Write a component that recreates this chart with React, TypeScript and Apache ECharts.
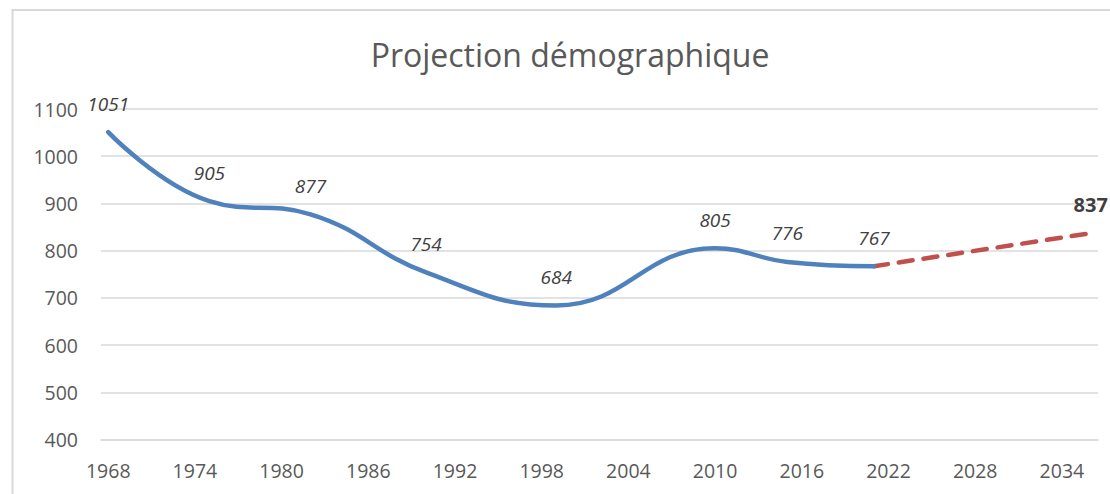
import React, { useEffect, useRef } from "react";
import * as echarts from "echarts";

// Axis domain: one category per year (Excel date axis, between tick marks)
const FIRST_YEAR = 1968;
const LAST_YEAR = 2036;
const YEARS: string[] = Array.from({ length: LAST_YEAR - FIRST_YEAR + 1 }, (_, i) => String(FIRST_YEAR + i));
const LABEL_STEP = 6;

// Historical population
const HIST_YEARS = ["1968", "1975", "1982", "1990", "1999", "2010", "2015", "2021"];
const HIST_VALUES = [1051, 905, 877, 754, 684, 805, 776, 767];

// Projection
const PROJ_YEARS = ["2021", "2036"];
const PROJ_VALUES = [767, 837];

const Y_MIN = 400;
const Y_MAX = 1100;
const Y_STEP = 100;

const TITLE = "Projection démographique";

export default function App() {
  const ref = useRef<HTMLDivElement>(null);

  useEffect(() => {
    document.body.style.margin = "0";
    if (!ref.current) return;
    const chart = echarts.init(ref.current, undefined, { renderer: "svg" });
    const font = "'Open Sans', 'Noto Sans', sans-serif";

    const labelStyle = {
      show: true,
      position: "top",
      distance: 19,
      fontStyle: "italic",
      fontSize: 19,
      fontFamily: font,
      color: "#404040",
    };

    chart.setOption({
      animation: false,
      backgroundColor: "#ffffff",
      graphic: [
        {
          type: "rect",
          shape: { x: 12.5, y: 10, width: 1300, height: 700 },
          style: { fill: "none", stroke: "#d9d9d9", lineWidth: 2 },
          silent: true,
          z: -1,
        },
        {
          type: "text",
          x: 570,
          y: 54,
          style: {
            text: TITLE,
            fontSize: 32,
            fontFamily: font,
            fill: "#595959",
            align: "center",
            verticalAlign: "middle",
          },
        },
      ],
      grid: { left: 101, right: 12, top: 109, bottom: 54.5, containLabel: false },
      xAxis: {
        type: "category",
        data: YEARS,
        boundaryGap: true,
        axisLine: { show: true, lineStyle: { color: "#d9d9d9", width: 1.5 } },
        axisTick: { show: false },
        splitLine: { show: false },
        axisLabel: {
          interval: (_i: number, v: string) => (Number(v) - FIRST_YEAR) % LABEL_STEP === 0,
          margin: 21,
          fontSize: 19.5,
          fontFamily: font,
          color: "#595959",
        },
      },
      yAxis: {
        type: "value",
        min: Y_MIN,
        max: Y_MAX,
        interval: Y_STEP,
        axisLine: { show: false },
        axisTick: { show: false },
        splitLine: { lineStyle: { color: "#d9d9d9", width: 1.5 } },
        axisLabel: {
          margin: 23,
          fontSize: 19.5,
          fontFamily: font,
          color: "#595959",
          formatter: (v: number) => String(v),
        },
      },
      series: [
        {
          type: "line",
          data: HIST_YEARS.map((y, i) => [y, HIST_VALUES[i]]),
          smooth: 0.45,
          symbol: "circle",
          symbolSize: 0.01,
          showSymbol: true,
          itemStyle: { color: "#4F81BD" },
          lineStyle: { color: "#4F81BD", width: 4.5, cap: "round", join: "round" },
          label: labelStyle,
          z: 3,
        },
        {
          type: "line",
          data: PROJ_YEARS.map((y, i) => ({
            value: [y, PROJ_VALUES[i]],
            label:
              i === PROJ_YEARS.length - 1
                ? { ...labelStyle, fontStyle: "normal", fontWeight: "bold", fontSize: 20 }
                : { show: false },
          })),
          symbol: "circle",
          symbolSize: 0.01,
          showSymbol: true,
          itemStyle: { color: "#C0504D" },
          lineStyle: { color: "#C0504D", width: 4.5, type: [14, 11], cap: "round" },
          z: 2,
        },
      ],
    });

    return () => chart.dispose();
  }, []);

  return <div ref={ref} style={{ width: 1110, height: 494 }} />;
}
